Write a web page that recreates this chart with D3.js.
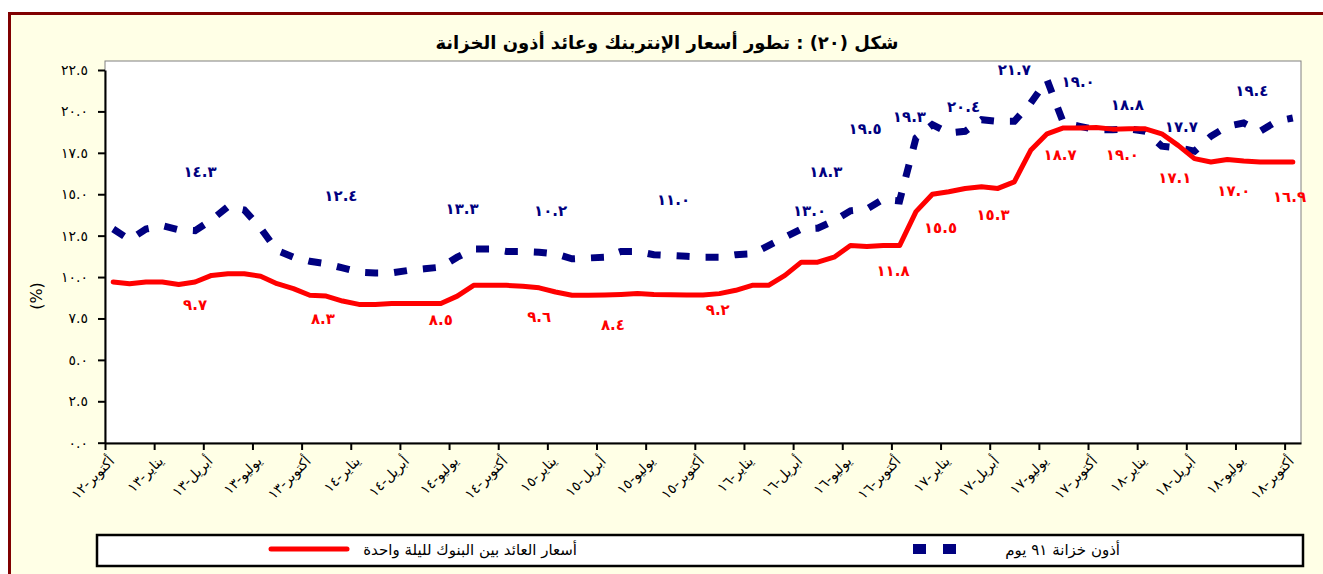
<!DOCTYPE html>
<html>
<head>
<meta charset="utf-8">
<script src="https://cdn.jsdelivr.net/npm/d3@7"></script>
<style>
  html, body { margin: 0; padding: 0; background: #fff; }
  svg { display: block; font-family: "DejaVu Sans", sans-serif; }
</style>
</head>
<body>
<svg id="chart" width="1323" height="574"></svg>
<script>
// monthly data Oct-12 .. Oct-18 (73 months)
var interbank = [
  9.7, 9.6, 9.7, 9.7, 9.55, 9.7, 10.1, 10.2, 10.2, 10.05, 9.6, 9.3,
  8.9, 8.85, 8.55, 8.35, 8.35, 8.4, 8.4, 8.4, 8.4, 8.85, 9.5, 9.5,
  9.5, 9.45, 9.35, 9.1, 8.9, 8.9, 8.92, 8.95, 9.0, 8.95, 8.93, 8.92,
  8.92, 9.0, 9.2, 9.5, 9.5, 10.1, 10.9, 10.9, 11.2, 11.9, 11.85, 11.9,
  11.9, 13.95, 15.0, 15.15, 15.35, 15.45, 15.35, 15.75, 17.65, 18.65, 19.0, 19.0,
  19.03, 18.93, 18.95, 18.95, 18.65, 17.95, 17.15, 16.95, 17.1, 17.0, 16.95, 16.95,
  16.95
];
var tbill91 = [
  12.9, 12.25, 12.9, 13.1, 12.85, 12.8, 13.45, 14.25, 14.05, 12.95, 11.6, 11.2,
  10.95, 10.8, 10.55, 10.3, 10.25, 10.25, 10.4, 10.5, 10.6, 11.2, 11.7, 11.7,
  11.55, 11.55, 11.5, 11.4, 11.1, 11.15, 11.2, 11.55, 11.55, 11.35, 11.3, 11.25,
  11.2, 11.2, 11.35, 11.4, 11.9, 12.4, 12.9, 12.95, 13.4, 14.0, 14.1, 14.7,
  14.6, 18.4, 19.2, 18.7, 18.8, 19.5, 19.4, 19.4, 20.5, 21.9, 19.3, 19.1,
  18.9, 18.9, 18.95, 18.8, 17.9, 17.8, 17.6, 18.5, 19.1, 19.3, 18.8, 19.4,
  19.6
];

var quarterLabels = [
  "أكتوبر-١٢", "يناير-١٣", "أبريل-١٣", "يوليو-١٣", "أكتوبر-١٣", "يناير-١٤", "أبريل-١٤",
  "يوليو-١٤", "أكتوبر-١٤", "يناير-١٥", "أبريل-١٥", "يوليو-١٥", "أكتوبر-١٥", "يناير-١٦",
  "أبريل-١٦", "يوليو-١٦", "أكتوبر-١٦", "يناير-١٧", "أبريل-١٧", "يوليو-١٧", "أكتوبر-١٧",
  "يناير-١٨", "أبريل-١٨", "يوليو-١٨", "أكتوبر-١٨"
];
var yTickValues = [0, 2.5, 5, 7.5, 10, 12.5, 15, 17.5, 20, 22.5];
var yTickLabels = ["٠.٠", "٢.٥", "٥.٠", "٧.٥", "١٠.٠", "١٢.٥", "١٥.٠", "١٧.٥", "٢٠.٠", "٢٢.٥"];

// hand placed value callouts: text, month position, level
var tbillNotes = ["١٤.٣", "١٢.٤", "١٣.٣", "١٠.٢", "١١.٠", "١٣.٠", "١٨.٣", "١٩.٥", "١٩.٣", "٢٠.٤", "٢١.٧", "١٩.٠", "١٨.٨", "١٧.٧", "١٩.٤"];
var tbillNoteAt = [[5.8, 16.35], [14.4, 14.9], [21.8, 14.1], [27.2, 14.0], [34.7, 14.65], [43.0, 14.0], [44.0, 16.35], [46.4, 18.95], [49.1, 19.65], [52.4, 20.3], [55.5, 22.5], [59.4, 21.8], [62.4, 20.4], [65.7, 19.1], [70.0, 21.25]];
var ibNotes = ["٩.٧", "٨.٣", "٨.٥", "٩.٦", "٨.٤", "٩.٢", "١١.٨", "١٥.٥", "١٥.٣", "١٨.٧", "١٩.٠", "١٧.١", "١٧.٠", "١٦.٩"];
var ibNoteAt = [[5.5, 8.35], [13.3, 7.5], [20.5, 7.4], [26.5, 7.6], [31.0, 7.1], [37.4, 8.0], [48.1, 10.4], [51.0, 13.0], [54.2, 13.75], [58.3, 17.4], [62.1, 17.4], [65.3, 16.0], [68.9, 15.2], [72.3, 14.85]];

var svg = d3.select("#chart");
var clrRed = "#ff0000";
var clrNavy = "#000080";

// outer frame
svg.append("rect")
  .attr("x", 9.5).attr("y", 13.5)
  .attr("width", 1330).attr("height", 600)
  .attr("fill", "#ffffe6")
  .attr("stroke", "#800000")
  .attr("stroke-width", 3);

svg.append("text")
  .attr("x", 667).attr("y", 49)
  .attr("text-anchor", "middle")
  .attr("direction", "rtl")
  .style("font-size", "18px")
  .style("font-weight", "bold")
  .text("شكل (٢٠) : تطور أسعار الإنتربنك وعائد أذون الخزانة");

var x = d3.scaleLinear().domain([0, interbank.length]).range([105, 1301]);
var y = d3.scaleLinear().domain([0, 22.5]).range([442.7, 70]);

svg.append("rect")
  .attr("x", 105).attr("y", 61)
  .attr("width", 1196).attr("height", 382)
  .attr("fill", "#fff")
  .attr("stroke", "#808080")
  .attr("stroke-width", 1);

// y axis
var yAxis = svg.append("g")
  .attr("transform", "translate(105,0)")
  .call(d3.axisLeft(y).tickValues(yTickValues)
    .tickFormat(function (d, i) { return yTickLabels[i]; })
    .tickSize(7).tickSizeOuter(0).tickPadding(10));
yAxis.select(".domain").attr("stroke", "#000").attr("stroke-width", 2);
yAxis.selectAll(".tick line").attr("stroke", "#000").attr("stroke-width", 2);
yAxis.selectAll(".tick text")
  .style("font-size", "14px")
  .style("font-family", "DejaVu Sans")
  .style("letter-spacing", "1px")
  .attr("fill", "#000");

svg.append("text")
  .attr("transform", "translate(42,296) rotate(-90)")
  .attr("text-anchor", "middle")
  .style("font-size", "16px")
  .text("(%)");

// x axis: ticks on quarter boundaries
var xAxis = svg.append("g")
  .attr("transform", "translate(0,443)")
  .call(d3.axisBottom(x).tickValues(d3.range(0, interbank.length, 3))
    .tickFormat("").tickSize(7).tickSizeOuter(0));
xAxis.select(".domain").attr("stroke", "#000").attr("stroke-width", 2);
xAxis.selectAll(".tick line").attr("stroke", "#000").attr("stroke-width", 2);

svg.selectAll(".qlabel")
  .data(quarterLabels)
  .enter().append("text")
  .attr("class", "qlabel")
  .attr("transform", function (d, i) {
    return "translate(" + (x(i * 3 + 0.5) + 2) + ",462) rotate(-45)";
  })
  .attr("text-anchor", "end")
  .style("font-size", "14px")
  .text(function (d) { return d; });

// series
var line = function (vals) {
  return d3.line()
    .x(function (d, i) { return x(i + 0.5); })
    .y(function (d) { return y(d); })(vals);
};

svg.append("path")
  .attr("d", line(tbill91))
  .attr("fill", "none")
  .attr("stroke", clrNavy)
  .attr("stroke-width", 7)
  .attr("stroke-dasharray", "13,16");

svg.append("path")
  .attr("d", line(interbank))
  .attr("fill", "none")
  .attr("stroke", clrRed)
  .attr("stroke-width", 5)
  .attr("stroke-linejoin", "round")
  .attr("stroke-linecap", "round");

// callouts
function notes(texts, at, color) {
  svg.selectAll(null)
    .data(texts)
    .enter().append("text")
    .attr("x", function (d, i) { return x(at[i][0]); })
    .attr("y", function (d, i) { return y(at[i][1]); })
    .attr("dy", "0.35em")
    .attr("text-anchor", "middle")
    .attr("fill", color)
    .style("font-size", "15px")
    .style("font-weight", "bold")
    .style("letter-spacing", "3px")
    .text(function (d) { return d; });
}
notes(tbillNotes, tbillNoteAt, clrNavy);
notes(ibNotes, ibNoteAt, clrRed);

// legend
svg.append("rect")
  .attr("x", 97).attr("y", 535)
  .attr("width", 1206).attr("height", 31)
  .attr("fill", "#fff")
  .attr("stroke", "#000")
  .attr("stroke-width", 2.5);

svg.append("line")
  .attr("x1", 271).attr("x2", 347)
  .attr("y1", 549).attr("y2", 549)
  .attr("stroke", clrRed)
  .attr("stroke-width", 5)
  .attr("stroke-linecap", "round");
svg.append("text")
  .attr("x", 577).attr("y", 555)
  .attr("text-anchor", "end")
  .style("font-size", "15px")
  .text("أسعار العائد بين البنوك لليلة واحدة");

svg.append("line")
  .attr("x1", 913).attr("x2", 956)
  .attr("y1", 549).attr("y2", 549)
  .attr("stroke", clrNavy)
  .attr("stroke-width", 10)
  .attr("stroke-dasharray", "13,17");
svg.append("text")
  .attr("x", 1120).attr("y", 555)
  .attr("text-anchor", "end")
  .style("font-size", "15px")
  .text("أذون خزانة ٩١ يوم");
</script>
</body>
</html>
